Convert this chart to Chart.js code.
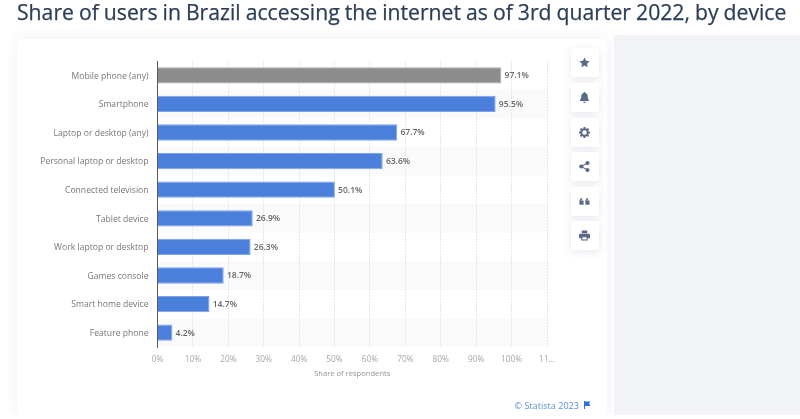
<!DOCTYPE html>
<html><head><meta charset="utf-8">
<style>
html,body{margin:0;padding:0;width:800px;height:419px;overflow:hidden;background:#fff;font-family:"Open Sans",sans-serif}
#wrap{position:absolute;left:0;top:0;width:800px;height:419px;filter:blur(.35px)}
#title{position:absolute;left:17px;top:-3px;font-size:21.2px;line-height:30px;color:#2c3e57;white-space:nowrap;-webkit-text-stroke:.25px #2c3e57;word-spacing:-.5px}
#side{position:absolute;left:614px;top:35px;width:186px;height:380px;background:#f1f3f7}
#card{position:absolute;left:17px;top:39px;width:590px;height:376px;background:#fff;border-radius:4px;box-shadow:0 0 14px rgba(60,80,120,.09);clip-path:inset(-14px -7px 0 -14px)}
canvas{position:absolute;left:0;top:0}
.btn{position:absolute;left:570.5px;width:28.5px;height:28.5px;background:#fff;border-radius:3px;box-shadow:0 2px 9px rgba(60,80,120,.13);display:flex;align-items:center;justify-content:center}
.btn svg{width:11px;height:11px;fill:#5b6b85}
#credit{position:absolute;right:221px;top:399px;font-size:9.1px;line-height:14px;color:#5f8fdc;white-space:nowrap}
#flag{position:absolute;left:584px;top:401px;width:7px;height:8px;fill:#2f6fdc}
</style></head><body><div id="wrap">
<div id="title">Share of users in Brazil accessing the internet as of 3rd quarter 2022, by device</div>
<div id="side"></div>
<div id="card"></div>
<div class="btn" style="top:48px"><svg viewBox="0 0 24 24"><path d="M12 1l3.4 7.2 7.8 1-5.7 5.4 1.5 7.8L12 18.6l-7 3.8 1.5-7.8L.8 9.2l7.8-1z"/></svg></div>
<div class="btn" style="top:83px"><svg viewBox="0 0 24 24"><path d="M12 0a2 2 0 0 1 2 2.2c3.5.9 5 3.8 5 7.3 0 5 1.6 6.6 3 8.5v1.5H2V18c1.4-1.900 3-3.500 3-8.500 0-3.500 1.500-6.400 5-7.300A2 2 0 0 1 12 0zM9 21h6a3 3 0 0 1-6 0z"/></svg></div>
<div class="btn" style="top:118px"><svg viewBox="0 0 24 24"><path fill-rule="evenodd" d="M10 1h4l.6 3.200 2 .8L19.300 3.200 22 6l-1.800 2.700.8 2 3 .6v3.800l-3 .6-.8 2L22 20l-2.700 2.700-2.700-1.800-2 .8L14 25h-4l-.6-3.300-2-.8-2.700 1.800L2 20l1.800-2.800-.8-2-3-.6v-3.800l3-.6.800-2L2 6l2.700-2.800L7.400 5l2-.8zM12 8a5 5 0 1 0 0 10 5 5 0 0 0 0-10z" transform="translate(0 -1)"/></svg></div>
<div class="btn" style="top:152px"><svg viewBox="0 0 24 24"><circle cx="18.500" cy="4.500" r="4.500"/><circle cx="5" cy="12" r="4.500"/><circle cx="18.500" cy="19.500" r="4.500"/><path d="M5 11l13-7.500 1 1.800L6 12.800zM6 11.200l13 7.500-1 1.800L5 13z"/></svg></div>
<div class="btn" style="top:187px"><svg viewBox="0 0 24 24"><path d="M1 19v-7c0-4 2-7 6-8v3c-1.500.6-2.300 1.700-2.500 3H10v9zM14 19v-7c0-4 2-7 6-8v3c-1.500.6-2.300 1.700-2.500 3H23v9z"/></svg></div>
<div class="btn" style="top:221px"><svg viewBox="0 0 24 24"><path fill-rule="evenodd" d="M6 1h12v6H6zM3 8h18a3 3 0 0 1 3 3v7h-5v5H5v-5H0v-7a3 3 0 0 1 3-3zM7.500 16v4.500h9V16z"/></svg></div>
<canvas id="c" width="800" height="419"></canvas>
<div id="credit">© Statista 2023</div>
<svg id="flag" viewBox="0 0 7 8"><path d="M0 0h1v8H0zM1 .5h5.500L5 2.500l1.500 2.500H1z"/></svg>
</div>
<script src="https://cdn.jsdelivr.net/npm/chart.js@4"></script>
<script>
const categories = ["Mobile phone (any)","Smartphone","Laptop or desktop (any)","Personal laptop or desktop","Connected television","Tablet device","Work laptop or desktop","Games console","Smart home device","Feature phone"];
const values = [97.1,95.5,67.7,63.6,50.1,26.9,26.3,18.7,14.7,4.2];
const barColors = ["#8c8c8c","#4a7fdc","#4a7fdc","#4a7fdc","#4a7fdc","#4a7fdc","#4a7fdc","#4a7fdc","#4a7fdc","#4a7fdc"];
const barEdges = ["#a8a8a8","#7ea4e8","#7ea4e8","#7ea4e8","#7ea4e8","#7ea4e8","#7ea4e8","#7ea4e8","#7ea4e8","#7ea4e8"];
const tickLabels = ["0%","10%","20%","30%","40%","50%","60%","70%","80%","90%","100%","11…"];
const FONT = '"Open Sans", sans-serif';

const stripes = {id:'stripes',beforeDraw(chart){
  const {ctx,chartArea:a,scales:{y}}=chart;
  const h=a.height/categories.length;
  ctx.save();ctx.fillStyle='#fafafa';
  categories.forEach((c,i)=>{ if(i%2===1) ctx.fillRect(a.left,y.getPixelForValue(i)-h/2,a.width,h); });
  ctx.restore();
}};
const labels = {id:'labels',afterDatasetsDraw(chart){
  const {ctx}=chart, meta=chart.getDatasetMeta(0);
  ctx.save();ctx.font='600 8.5px '+FONT;ctx.fillStyle='#666666';ctx.textBaseline='middle';ctx.textAlign='left';
  meta.data.forEach((b,i)=>ctx.fillText(values[i].toFixed(1)+'%',b.x+3.2,b.y+.5));
  ctx.restore();
}};
new Chart(document.getElementById('c'),{
  type:'bar',
  data:{labels:categories,datasets:[{data:values,backgroundColor:barColors,borderColor:barEdges,borderWidth:1,barPercentage:.57,categoryPercentage:1}]},
  plugins:[stripes,labels],
  options:{
    indexAxis:'y',responsive:false,animation:false,
    layout:{padding:{left:0,right:253,top:61,bottom:40}},
    plugins:{legend:{display:false},tooltip:{enabled:false}},
    scales:{
      x:{min:0,max:110,
        ticks:{stepSize:10,autoSkip:false,maxRotation:0,padding:8,color:'#a6a6a6',font:{family:FONT,size:8.3},callback:(v,i)=>tickLabels[i]},
        grid:{color:'#e6e6e6',lineWidth:1,drawTicks:false,tickLength:0},
        border:{display:false,dash:[2,1]},
        title:{display:true,text:'Share of respondents',color:'#949494',font:{family:FONT,size:7.6},padding:{top:2,bottom:1}},
        afterFit(s){s.height=32;}
      },
      y:{
        ticks:{padding:9,labelOffset:.8,color:'#777777',font:{family:FONT,size:8.6},autoSkip:false},
        grid:{display:false,drawTicks:false},
        border:{display:true,color:'#5a5a5a',width:1},
        afterFit(s){s.width=157.5;}
      }
    }
  }
});
</script>
</body></html>
